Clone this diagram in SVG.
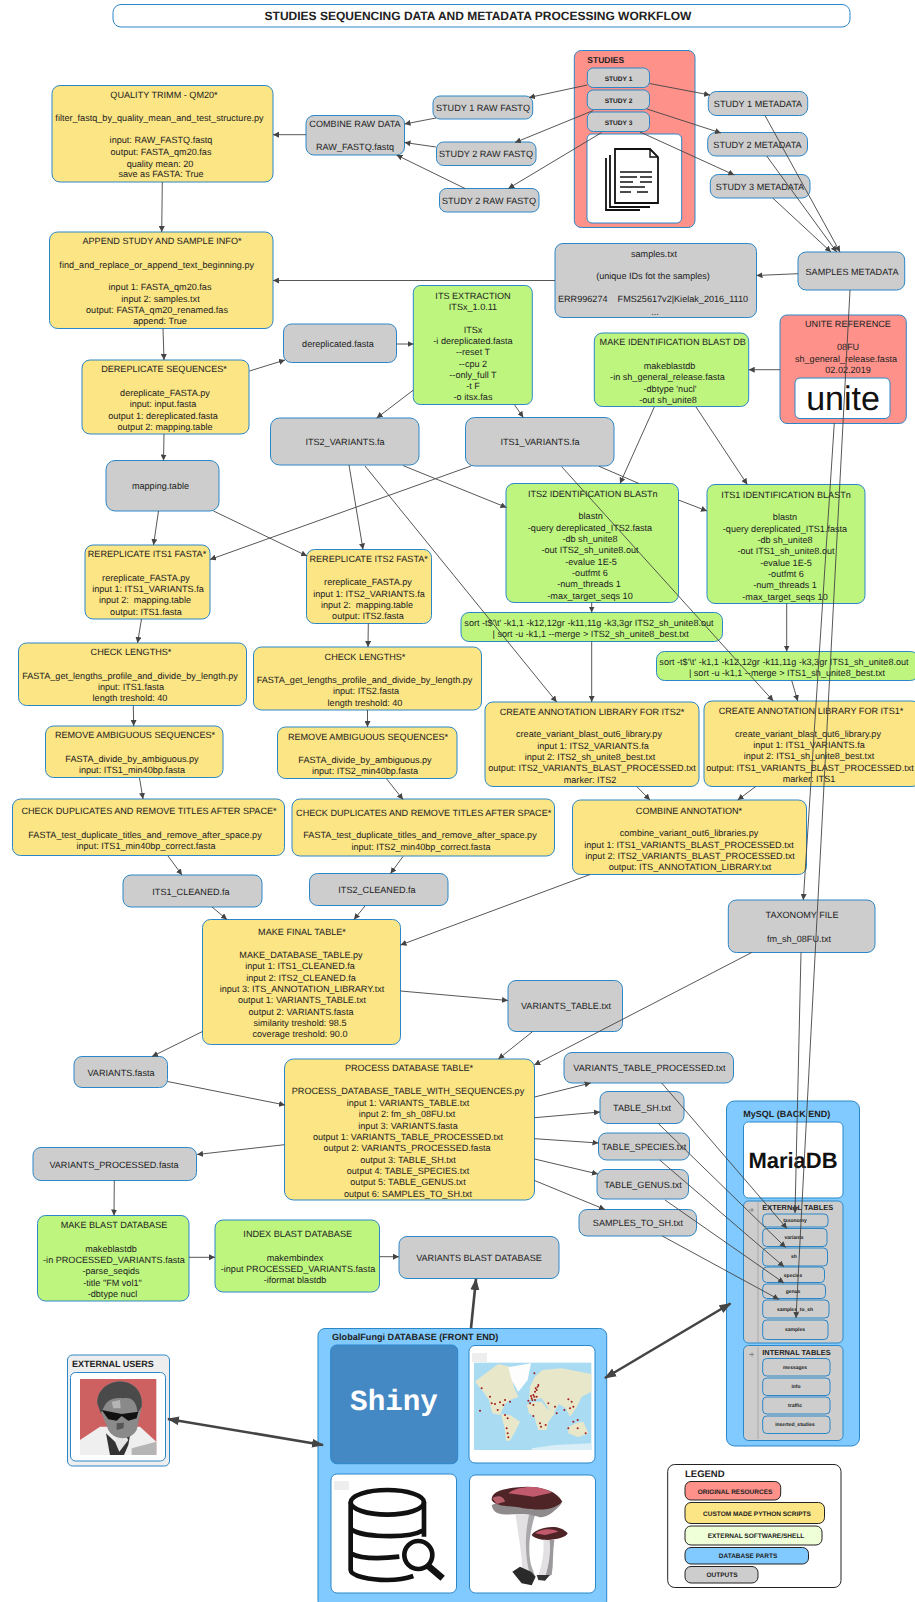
<svg xmlns="http://www.w3.org/2000/svg" width="915" height="1602" viewBox="0 0 915 1602">
<style>
text{font-family:"Liberation Sans",Arial,sans-serif;fill:#222;text-rendering:geometricPrecision}
.t{font-size:9.1px;text-anchor:middle}
.bs{font-weight:bold}
.m{font-size:5px;font-weight:bold;text-anchor:middle}
.st{font-size:6.6px;font-weight:bold;text-anchor:middle}
.l{font-size:6.5px;font-weight:bold;text-anchor:middle}
rect{stroke:#2b87c8;stroke-width:1}
.y{fill:#fce584}.g{fill:#bef57f}.s{fill:#cdcdcd}.r{fill:#fe918a}.b{fill:#80caff}.w{fill:#fff}
.k{stroke:#222;stroke-width:1}
.c{fill:none;stroke:#444;stroke-width:.9;marker-end:url(#a)}
.h{fill:none;stroke:#444;stroke-width:2.6}
</style>
<defs>
<marker id="a" markerUnits="userSpaceOnUse" markerWidth="7" markerHeight="6" refX="6" refY="3" orient="auto"><path d="M0 0L6 3L0 6Z" fill="#444"/></marker>
<marker id="d" markerUnits="userSpaceOnUse" markerWidth="13" markerHeight="10" refX="11" refY="5" orient="auto-start-reverse"><path d="M0 .5L12 5L0 9.5Z" fill="#444"/></marker>
</defs>
<rect width="915" height="1602" style="fill:#fff;stroke:none"/>

<g id="title"><rect x="113" y="4.5" width="737" height="22.5" rx="8" class="w"/><text x="478" y="19.5" class="bs" font-size="12" text-anchor="middle">STUDIES SEQUENCING DATA AND METADATA PROCESSING WORKFLOW</text></g>

<g id="quality-trimm"><rect x="52" y="85.5" width="221" height="96.5" rx="8" class="y"/><text class="t"><tspan x="164" y="98">QUALITY TRIMM - QM20*</tspan><tspan x="159.5" y="120.5">filter_fastq_by_quality_mean_and_test_structure.py</tspan><tspan x="161" y="143">input: RAW_FASTQ.fastq</tspan><tspan x="161" y="154.5">output: FASTA_qm20.fas</tspan><tspan x="160" y="166.5">quality mean: 20</tspan><tspan x="161" y="177">save as FASTA: True</tspan></text></g>

<g id="combine-raw"><rect x="306" y="115.5" width="98.5" height="39.5" rx="8" class="s"/><text class="t"><tspan x="355" y="127">COMBINE RAW DATA</tspan><tspan x="355" y="150">RAW_FASTQ.fastq</tspan></text></g>
<g id="raw1"><rect x="433" y="96" width="99.7" height="23" rx="7" class="s"/><text class="t" x="483" y="111">STUDY 1 RAW FASTQ</text></g>
<g id="raw2"><rect x="436.5" y="142" width="99.5" height="23.5" rx="7" class="s"/><text class="t" x="486" y="157">STUDY 2 RAW FASTQ</text></g>
<g id="raw3"><rect x="439.5" y="188.5" width="99.5" height="23.5" rx="7" class="s"/><text class="t" x="489" y="204">STUDY 2 RAW FASTQ</text></g>

<g id="studies"><rect x="574.3" y="50.5" width="120.7" height="177" rx="7" class="r"/><text x="587.3" y="63" class="bs" font-size="8.5">STUDIES</text>
<rect x="587.3" y="68" width="62.2" height="19.5" rx="6" class="s"/><text class="st" x="618.5" y="80.8">STUDY 1</text>
<rect x="587.3" y="90" width="62.2" height="19.5" rx="6" class="s"/><text class="st" x="618.5" y="102.8">STUDY 2</text>
<rect x="587.3" y="112" width="62.2" height="19.5" rx="6" class="s"/><text class="st" x="618.5" y="124.8">STUDY 3</text>
<rect x="587" y="134" width="94.7" height="89" rx="5" class="w"/>
<g fill="none" stroke="#111" stroke-width="1.8"><path d="M606 158V210H640M610 155V207H650"/><path d="M650 149H615V203H658V157Z" fill="#fff"/><path d="M650 149V157H658" stroke-width="1.4"/><path d="M620 172H652M620 177H637M640 177H652M620 182H633M640 182H652M620 187H645M620 192H631M637 192H648" stroke-width="1.7"/></g></g>

<g id="meta1"><rect x="708.3" y="91.5" width="99.4" height="24" rx="8" class="s"/><text class="t" x="758" y="107">STUDY 1 METADATA</text></g>
<g id="meta2"><rect x="707.7" y="132.5" width="99.8" height="23.5" rx="8" class="s"/><text class="t" x="757.5" y="148">STUDY 2 METADATA</text></g>
<g id="meta3"><rect x="710.3" y="174.5" width="99.7" height="23.5" rx="8" class="s"/><text class="t" x="760" y="190">STUDY 3 METADATA</text></g>
<g id="samples-meta"><rect x="798" y="252" width="106.7" height="38" rx="8" class="s"/><text class="t" x="852" y="275">SAMPLES METADATA</text></g>
<g id="samples-txt"><rect x="555" y="243.5" width="201.5" height="74" rx="8" class="s"/><text class="t"><tspan x="654" y="256.5">samples.txt</tspan><tspan x="653" y="278.5">(unique IDs fot the samples)</tspan><tspan x="653" y="301.5">ERR996274&#160;&#160;&#160;&#160;FMS25617v2|Kielak_2016_1110</tspan><tspan x="655" y="314.5">...</tspan></text></g>

<g id="unite"><rect x="780" y="315" width="126.3" height="108.5" rx="7" class="r"/><text class="t"><tspan x="848" y="327">UNITE REFERENCE</tspan><tspan x="848" y="350">08FU</tspan><tspan x="846" y="361.5">sh_general_release.fasta</tspan><tspan x="848" y="373">02.02.2019</tspan></text><rect x="795" y="378" width="95" height="40.5" rx="5" class="w"/><text x="843" y="410" font-size="34" text-anchor="middle" style="fill:#111">unite</text></g>

<g id="make-id-db"><rect x="594.3" y="333" width="154.4" height="73.5" rx="8" class="g"/><text class="t"><tspan x="672.7" y="345">MAKE IDENTIFICATION BLAST DB</tspan><tspan x="669.5" y="368.5">makeblastdb</tspan><tspan x="667.5" y="379.5">-in sh_general_release.fasta</tspan><tspan x="670" y="391.5">-dbtype 'nucl'</tspan><tspan x="668" y="403">-out sh_unite8</tspan></text></g>

<g id="its-extraction"><rect x="413.3" y="285.5" width="119" height="119" rx="7" class="g"/><text class="t"><tspan x="473" y="298.5">ITS EXTRACTION</tspan><tspan x="473" y="310">ITSx_1.0.11</tspan><tspan x="473" y="332.5">ITSx</tspan><tspan x="473" y="343.5">-i dereplicated.fasta</tspan><tspan x="473" y="354.5">--reset T</tspan><tspan x="473" y="366.5">--cpu 2</tspan><tspan x="473" y="377.5">--only_full T</tspan><tspan x="473" y="388.5">-t F</tspan><tspan x="473" y="400">-o itsx.fas</tspan></text></g>

<g id="append"><rect x="49.5" y="232" width="223.5" height="96.5" rx="8" class="y"/><text class="t"><tspan x="162" y="244">APPEND STUDY AND SAMPLE INFO*</tspan><tspan x="156.7" y="267.5">find_and_replace_or_append_text_beginning.py</tspan><tspan x="160" y="289.5">input 1: FASTA_qm20.fas</tspan><tspan x="160.5" y="301.5">input 2: samples.txt</tspan><tspan x="157" y="312.5">output: FASTA_qm20_renamed.fas</tspan><tspan x="160" y="323.5">append: True</tspan></text></g>

<g id="dereplicated"><rect x="283.5" y="324" width="113" height="38.5" rx="8" class="s"/><text class="t" x="338" y="347">dereplicated.fasta</text></g>
<g id="dereplicate"><rect x="82" y="360" width="167" height="74" rx="8" class="y"/><text class="t"><tspan x="164" y="372">DEREPLICATE SEQUENCES*</tspan><tspan x="165" y="395.5">dereplicate_FASTA.py</tspan><tspan x="163" y="406.5">input: input.fasta</tspan><tspan x="163" y="418.5">output 1: dereplicated.fasta</tspan><tspan x="165" y="429.5">output 2: mapping.table</tspan></text></g>
<g id="mapping"><rect x="106" y="460.5" width="113" height="50.5" rx="9" class="s"/><text class="t" x="160.5" y="489">mapping.table</text></g>
<g id="its2-var"><rect x="270.5" y="418" width="148.5" height="47" rx="9" class="s"/><text class="t" x="345" y="445">ITS2_VARIANTS.fa</text></g>
<g id="its1-var"><rect x="465.5" y="417.5" width="148.5" height="48.5" rx="9" class="s"/><text class="t" x="540" y="445">ITS1_VARIANTS.fa</text></g>

<g id="rerep1"><rect x="85" y="545" width="125" height="74" rx="8" class="y"/><text class="t"><tspan x="147" y="557">REREPLICATE ITS1 FASTA*</tspan><tspan x="146" y="580.5">rereplicate_FASTA.py</tspan><tspan x="148" y="591.5">input 1: ITS1_VARIANTS.fa</tspan><tspan x="145" y="602.5">input 2:&#160;&#160;mapping.table</tspan><tspan x="146" y="614.5">output: ITS1.fasta</tspan></text></g>
<g id="rerep2"><rect x="306.5" y="549.5" width="125" height="74" rx="8" class="y"/><text class="t"><tspan x="368.7" y="562">REREPLICATE ITS2 FASTA*</tspan><tspan x="368" y="584.5">rereplicate_FASTA.py</tspan><tspan x="369" y="596.5">input 1: ITS2_VARIANTS.fa</tspan><tspan x="367" y="607.5">input 2:&#160;&#160;mapping.table</tspan><tspan x="368" y="618.5">output: ITS2.fasta</tspan></text></g>
<g id="check1"><rect x="18.5" y="643" width="228" height="62.5" rx="8" class="y"/><text class="t"><tspan x="131" y="655">CHECK LENGTHS*</tspan><tspan x="130" y="678.5">FASTA_get_lengths_profile_and_divide_by_length.py</tspan><tspan x="131" y="689.5">input: ITS1.fasta</tspan><tspan x="130" y="700.5">length treshold: 40</tspan></text></g>
<g id="check2"><rect x="253.5" y="647" width="228" height="63" rx="8" class="y"/><text class="t"><tspan x="365" y="659.5">CHECK LENGTHS*</tspan><tspan x="364.5" y="682.5">FASTA_get_lengths_profile_and_divide_by_length.py</tspan><tspan x="366" y="693.5">input: ITS2.fasta</tspan><tspan x="365" y="705.5">length treshold: 40</tspan></text></g>
<g id="remove1"><rect x="45.5" y="726" width="177.5" height="51.5" rx="8" class="y"/><text class="t"><tspan x="135" y="738">REMOVE AMBIGUOUS SEQUENCES*</tspan><tspan x="132" y="761.5">FASTA_divide_by_ambiguous.py</tspan><tspan x="132" y="772.5">input: ITS1_min40bp.fasta</tspan></text></g>
<g id="remove2"><rect x="277.5" y="727" width="179.5" height="51.5" rx="8" class="y"/><text class="t"><tspan x="368" y="739.5">REMOVE AMBIGUOUS SEQUENCES*</tspan><tspan x="365" y="762.5">FASTA_divide_by_ambiguous.py</tspan><tspan x="365" y="773.5">input: ITS2_min40bp.fasta</tspan></text></g>
<g id="dup1"><rect x="12.5" y="799" width="272" height="56.5" rx="8" class="y"/><text class="t"><tspan x="149" y="814">CHECK DUPLICATES AND REMOVE TITLES AFTER SPACE*</tspan><tspan x="145" y="837.5">FASTA_test_duplicate_titles_and_remove_after_space.py</tspan><tspan x="146" y="848.5">input: ITS1_min40bp_correct.fasta</tspan></text></g>
<g id="dup2"><rect x="292" y="799" width="262.5" height="57" rx="8" class="y"/><text class="t"><tspan x="423.7" y="815.5">CHECK DUPLICATES AND REMOVE TITLES AFTER SPACE*</tspan><tspan x="420" y="837.5">FASTA_test_duplicate_titles_and_remove_after_space.py</tspan><tspan x="421" y="849.5">input: ITS2_min40bp_correct.fasta</tspan></text></g>
<g id="clean1"><rect x="123" y="875" width="139" height="32" rx="8" class="s"/><text class="t" x="191" y="895">ITS1_CLEANED.fa</text></g>
<g id="clean2"><rect x="309.5" y="873.5" width="138.5" height="32" rx="8" class="s"/><text class="t" x="377" y="893">ITS2_CLEANED.fa</text></g>

<g id="final"><rect x="202.5" y="919.5" width="198" height="125" rx="8" class="y"/><text class="t"><tspan x="302" y="934.5">MAKE FINAL TABLE*</tspan><tspan x="301" y="957.5">MAKE_DATABASE_TABLE.py</tspan><tspan x="300" y="968.5">input 1: ITS1_CLEANED.fa</tspan><tspan x="301" y="980.5">input 2: ITS2_CLEANED.fa</tspan><tspan x="302" y="991.5">input 3: ITS_ANNOTATION_LIBRARY.txt</tspan><tspan x="302" y="1002.5">output 1: VARIANTS_TABLE.txt</tspan><tspan x="301" y="1014.5">output 2: VARIANTS.fasta</tspan><tspan x="300" y="1025.5">similarity treshold: 98.5</tspan><tspan x="300" y="1036.5">coverage treshold: 90.0</tspan></text></g>
<g id="variants-fasta"><rect x="74" y="1056.5" width="93.5" height="31" rx="8" class="s"/><text class="t" x="121" y="1076">VARIANTS.fasta</text></g>
<g id="process"><rect x="284.5" y="1059" width="250" height="141" rx="9" class="y"/><text class="t"><tspan x="409" y="1071">PROCESS DATABASE TABLE*</tspan><tspan x="408" y="1094">PROCESS_DATABASE_TABLE_WITH_SEQUENCES.py</tspan><tspan x="408" y="1105.5">input 1: VARIANTS_TABLE.txt</tspan><tspan x="407" y="1116.5">input 2: fm_sh_08FU.txt</tspan><tspan x="408" y="1128.5">input 3: VARIANTS.fasta</tspan><tspan x="408" y="1139.5">output 1: VARIANTS_TABLE_PROCESSED.txt</tspan><tspan x="407" y="1150.5">output 2: VARIANTS_PROCESSED.fasta</tspan><tspan x="408" y="1162.5">output 3: TABLE_SH.txt</tspan><tspan x="408" y="1173.5">output 4: TABLE_SPECIES.txt</tspan><tspan x="408" y="1184.5">output 5: TABLE_GENUS.txt</tspan><tspan x="408" y="1196.5">output 6: SAMPLES_TO_SH.txt</tspan></text></g>
<g id="variants-processed"><rect x="33" y="1147.5" width="163.5" height="33" rx="8" class="s"/><text class="t" x="114" y="1168">VARIANTS_PROCESSED.fasta</text></g>
<g id="make-blast"><rect x="37.5" y="1215.5" width="151.5" height="85.5" rx="8" class="g"/><text class="t"><tspan x="114" y="1228">MAKE BLAST DATABASE</tspan><tspan x="111" y="1251.5">makeblastdb</tspan><tspan x="114" y="1262.5">-in PROCESSED_VARIANTS.fasta</tspan><tspan x="111" y="1273.5">-parse_seqids</tspan><tspan x="112.5" y="1285.5">-title "FM vol1"</tspan><tspan x="112.5" y="1296.5">-dbtype nucl</tspan></text></g>
<g id="index-blast"><rect x="215" y="1220" width="164.5" height="72" rx="8" class="g"/><text class="t"><tspan x="297.7" y="1237">INDEX BLAST DATABASE</tspan><tspan x="295" y="1260.5">makembindex</tspan><tspan x="298" y="1271.5">-input PROCESSED_VARIANTS.fasta</tspan><tspan x="295" y="1282.5">-iformat blastdb</tspan></text></g>
<g id="variants-blast-db"><rect x="399" y="1236.5" width="160" height="42" rx="8" class="s"/><text class="t" x="479" y="1261">VARIANTS BLAST DATABASE</text></g>

<g id="its2-id"><rect x="506" y="483.5" width="172.5" height="119" rx="8" class="g"/><text class="t"><tspan x="592.8" y="496.5">ITS2 IDENTIFICATION BLASTn</tspan><tspan x="590.7" y="518.5">blastn</tspan><tspan x="590" y="530.5">-query dereplicated_ITS2.fasta</tspan><tspan x="590" y="541.5">-db sh_unite8</tspan><tspan x="590" y="552.5">-out ITS2_sh_unite8.out</tspan><tspan x="591" y="564.5">-evalue 1E-5</tspan><tspan x="590" y="575.5">-outfmt 6</tspan><tspan x="589" y="586.5">-num_threads 1</tspan><tspan x="590" y="598.5">-max_target_seqs 10</tspan></text></g>
<g id="its1-id"><rect x="707" y="484.5" width="158" height="119" rx="8" class="g"/><text class="t"><tspan x="786" y="497.5">ITS1 IDENTIFICATION BLASTn</tspan><tspan x="785" y="519.5">blastn</tspan><tspan x="785" y="531.5">-query dereplicated_ITS1.fasta</tspan><tspan x="785" y="542.5">-db sh_unite8</tspan><tspan x="786" y="553.5">-out ITS1_sh_unite8.out</tspan><tspan x="786" y="565.5">-evalue 1E-5</tspan><tspan x="786" y="576.5">-outfmt 6</tspan><tspan x="785" y="587.5">-num_threads 1</tspan><tspan x="785" y="599.5">-max_target_seqs 10</tspan></text></g>
<g id="sort2"><rect x="461" y="612.5" width="261.5" height="29" rx="8" class="g"/><text class="t"><tspan x="589" y="625.5">sort -t$'\t' -k1,1 -k12,12gr -k11,11g -k3,3gr ITS2_sh_unite8.out</tspan><tspan x="590.7" y="636.5">| sort -u -k1,1 --merge &gt; ITS2_sh_unite8_best.txt</tspan></text></g>
<g id="sort1"><rect x="656.5" y="651.5" width="262" height="29" rx="8" class="g"/><text class="t"><tspan x="784" y="664.5">sort -t$'\t' -k1,1 -k12,12gr -k11,11g -k3,3gr ITS1_sh_unite8.out</tspan><tspan x="787" y="675.5">| sort -u -k1,1 --merge &gt; ITS1_sh_unite8_best.txt</tspan></text></g>
<g id="create2"><rect x="485" y="702" width="214" height="84.5" rx="8" class="y"/><text class="t"><tspan x="592" y="714.5">CREATE ANNOTATION LIBRARY FOR ITS2*</tspan><tspan x="589" y="736.5">create_variant_blast_out6_library.py</tspan><tspan x="593" y="748.5">input 1: ITS2_VARIANTS.fa</tspan><tspan x="590" y="759.5">input 2: ITS2_sh_unite8_best.txt</tspan><tspan x="592" y="770.5">output: ITS2_VARIANTS_BLAST_PROCESSED.txt</tspan><tspan x="590" y="782.5">marker: ITS2</tspan></text></g>
<g id="create1"><rect x="704" y="701" width="216" height="85.5" rx="8" class="y"/><text class="t"><tspan x="811" y="713.5">CREATE ANNOTATION LIBRARY FOR ITS1*</tspan><tspan x="808" y="736.5">create_variant_blast_out6_library.py</tspan><tspan x="809" y="747.5">input 1: ITS1_VARIANTS.fa</tspan><tspan x="809" y="758.5">input 2: ITS1_sh_unite8_best.txt</tspan><tspan x="810" y="770.5">output: ITS1_VARIANTS_BLAST_PROCESSED.txt</tspan><tspan x="809" y="781.5">marker: ITS1</tspan></text></g>
<g id="combine-annot"><rect x="572.5" y="800" width="234" height="74.5" rx="8" class="y"/><text class="t"><tspan x="689" y="813.5">COMBINE ANNOTATION*</tspan><tspan x="689" y="835.5">combine_variant_out6_libraries.py</tspan><tspan x="689" y="847.5">input 1: ITS1_VARIANTS_BLAST_PROCESSED.txt</tspan><tspan x="690" y="858.5">input 2: ITS2_VARIANTS_BLAST_PROCESSED.txt</tspan><tspan x="690" y="869.5">output: ITS_ANNOTATION_LIBRARY.txt</tspan></text></g>
<g id="taxonomy-file"><rect x="728.3" y="900" width="146.7" height="52.5" rx="8" class="s"/><text class="t"><tspan x="802" y="918">TAXONOMY FILE</tspan><tspan x="799" y="941.5">fm_sh_08FU.txt</tspan></text></g>
<g id="variants-table"><rect x="508" y="980.5" width="114.5" height="51" rx="8" class="s"/><text class="t" x="566" y="1009">VARIANTS_TABLE.txt</text></g>
<g id="vtp"><rect x="564" y="1052.5" width="169.5" height="30.5" rx="8" class="s"/><text class="t" x="649.5" y="1071">VARIANTS_TABLE_PROCESSED.txt</text></g>
<g id="table-sh"><rect x="600" y="1091.5" width="84" height="32" rx="8" class="s"/><text class="t" x="642" y="1111">TABLE_SH.txt</text></g>
<g id="table-species"><rect x="598.5" y="1133" width="91" height="27" rx="8" class="s"/><text class="t" x="644" y="1150">TABLE_SPECIES.txt</text></g>
<g id="table-genus"><rect x="597" y="1169.5" width="91.5" height="29.5" rx="8" class="s"/><text class="t" x="643" y="1188">TABLE_GENUS.txt</text></g>
<g id="samples-to-sh"><rect x="579" y="1209.5" width="117.5" height="26.5" rx="8" class="s"/><text class="t" x="638" y="1226">SAMPLES_TO_SH.txt</text></g>

<g id="mysql"><rect x="726.5" y="1101" width="133" height="345" rx="8" class="b"/><text x="743.3" y="1117" class="bs" font-size="9">MySQL (BACK END)</text>
<rect x="743.5" y="1122" width="99.5" height="76" rx="5" class="w"/><text x="793" y="1167.7" class="bs" font-size="22" text-anchor="middle" style="fill:#111">MariaDB</text>
<rect x="743.5" y="1201" width="99.5" height="142" rx="5" class="s"/><path d="M758 1202V1342" stroke="#bbb" stroke-width="2"/><text x="762.3" y="1210" class="bs" font-size="7.4">EXTERNAL TABLES</text><path d="M749 1210H754M752 1208V1212" stroke="#888"/>
<g><rect x="762.7" y="1214" width="65.3" height="13" rx="4" class="s"/><text class="m" x="795" y="1222">taxonomy</text>
<rect x="762.7" y="1228.5" width="64.3" height="18" rx="4" class="s"/><text class="m" x="794" y="1239">variants</text>
<rect x="762.7" y="1248" width="64.8" height="18" rx="4" class="s"/><text class="m" x="794" y="1258">sh</text>
<rect x="762.7" y="1267" width="61.8" height="15.5" rx="4" class="s"/><text class="m" x="793" y="1277">species</text>
<rect x="762.7" y="1284" width="62.8" height="14.5" rx="4" class="s"/><text class="m" x="793" y="1293">genus</text>
<rect x="762.7" y="1300" width="66.3" height="18" rx="4" class="s"/><text class="m" x="795" y="1311">samples_to_sh</text>
<rect x="762.7" y="1320" width="65.3" height="19.5" rx="4" class="s"/><text class="m" x="795" y="1331">samples</text></g>
<rect x="743.5" y="1345.5" width="99.5" height="95" rx="5" class="s"/><path d="M758 1347V1439" stroke="#bbb" stroke-width="2"/><text x="762.3" y="1354.5" class="bs" font-size="7.4">INTERNAL TABLES</text><path d="M749 1354.5H754M752 1352.5V1356.5" stroke="#888"/>
<g><rect x="762.7" y="1358.5" width="67.3" height="17.5" rx="4" class="s"/><text class="m" x="795" y="1369">messages</text>
<rect x="762.7" y="1378" width="67.3" height="17.5" rx="4" class="s"/><text class="m" x="796" y="1388">info</text>
<rect x="762.7" y="1397" width="67.3" height="17" rx="4" class="s"/><text class="m" x="795" y="1407">traffic</text>
<rect x="762.7" y="1416" width="67.3" height="17.5" rx="4" class="s"/><text class="m" x="795" y="1426">inserted_studies</text></g></g>

<g id="globalfungi"><rect x="318" y="1328.5" width="288.7" height="280" rx="7" class="b"/><text x="332" y="1340" class="bs" font-size="9.1">GlobalFungi DATABASE (FRONT END)</text>
<rect x="330.7" y="1345" width="127" height="118.7" rx="6" style="fill:#4488c4"/><text x="394" y="1410" font-size="29.3" font-weight="bold" text-anchor="middle" style="font-family:'Liberation Mono',monospace;fill:#fff">Shiny</text>
<rect x="469" y="1345.5" width="126" height="117.5" rx="6" class="w"/><rect x="472" y="1353" width="15" height="9" style="fill:#eee;stroke:none"/>
<g transform="translate(455 1200) scale(.33333)"><rect x="57" y="488" width="352" height="262" style="fill:#a9dbf3;stroke:none"/>
<g fill="#e9e7c9"><path d="M60 545L85 525L130 492L165 500L172 540L178 565L190 590L165 600L150 612L135 645L112 640L102 600L85 575L72 560Z"/><path d="M138 642L165 645L195 665L180 695L165 722L153 722L150 690Z"/><path d="M215 615L235 605L260 605L275 625L300 640L280 665L275 690L250 690L238 650L222 640Z"/><path d="M225 560L240 530L262 510L320 505L409 522L409 575L380 590L365 622L345 650L332 625L312 612L295 640L282 628L260 595L222 600Z"/><path d="M340 682L365 668L385 665L400 700L370 712L340 700Z"/><path d="M230 745L300 735L409 730V750H230Z" fill="#d9eef7"/></g>
<path d="M160 502L228 490L218 540L190 575L170 540Z" fill="#fdfdfd"/>
<path d="M80 565h.1M105 590h.1M110 610h.1M120 612h.1M135 607h.1M150 600h.1M165 605h.1M128 630h.1M145 615h.1M75 632h.1M150 645h.1M158 655h.1M155 685h.1M158 700h.1M160 712h.1M238 520h.1M248 560h.1M240 575h.1M245 570h.1M235 585h.1M230 595h.1M240 600h.1M225 610h.1M235 615h.1M220 602h.1M238 590h.1M245 590h.1M280 610h.1M300 620h.1M340 598h.1M350 605h.1M355 620h.1M345 625h.1M328 630h.1M305 640h.1M255 670h.1M272 675h.1M340 685h.1M368 660h.1M368 685h.1M355 665h.1M392 700h.1M258 680h.1M235 648h.1M242 565h.1M250 555h.1M232 600h.1M228 588h.1" stroke="#a01f1c" stroke-width="6" stroke-linecap="round" fill="none"/></g>
<rect x="331" y="1474" width="125.5" height="119" rx="6" class="w"/><rect x="334" y="1481" width="15" height="9" style="fill:#eee;stroke:none"/>
<g transform="translate(0 1200) scale(.33333)" fill="none" stroke="#111" stroke-width="14"><ellipse cx="1162" cy="907" rx="110" ry="37"/><path d="M1052 907V1110C1052 1128 1110 1140 1162 1140C1190 1140 1220 1135 1240 1128M1272 907V1010M1052 985C1070 1010 1220 1020 1272 990M1052 1060C1080 1075 1130 1078 1198 1070"/><circle cx="1255" cy="1065" r="42"/><path d="M1285 1098L1328 1135" stroke-width="20"/></g>
<rect x="469.5" y="1475" width="126" height="118" rx="6" class="w"/>
<g transform="translate(455 1200) scale(.33333)"><path d="M182 945H238C222 990 215 1040 222 1080C226 1100 236 1115 240 1135L200 1130C205 1090 195 1040 182 945Z" fill="#e2e0e3"/><path d="M222 945H240C226 990 218 1040 226 1085C230 1105 240 1120 240 1135L225 1125C210 1070 208 1010 222 945Z" fill="#a9a7aa"/><path d="M265 1020H298C292 1055 296 1090 290 1125L248 1132C262 1090 268 1060 265 1020Z" fill="#e2e0e3"/><path d="M284 1020H298C292 1055 296 1090 290 1125L272 1128C282 1090 288 1060 284 1020Z" fill="#9b999c"/><path d="M110 915C118 965 190 930 250 950C270 958 300 935 320 910L200 880Z" fill="#8f8a8c"/><path d="M110 900C125 925 180 915 205 925C250 930 290 935 322 905C305 870 245 855 190 862C145 865 108 875 110 900Z" fill="#4f2427"/><path d="M160 880C190 855 260 855 290 878L235 890L200 885Z" fill="#c15a6d"/><path d="M112 895C125 885 145 885 150 905L125 912Z" fill="#b7616c"/><path d="M172 1115L195 1100L228 1115L242 1130L230 1156L200 1150Z" fill="#2a2a2a"/><path d="M245 1125L285 1125L270 1142L250 1140Z" fill="#333"/><path d="M230 1005C240 985 310 965 338 1000C330 1020 250 1030 230 1005Z" fill="#4f2427"/><path d="M240 1000C260 985 290 985 310 995L270 1005Z" fill="#c15a6d"/></g></g>

<g id="external-users"><rect x="67.5" y="1355" width="102" height="111" rx="5" style="fill:#eee"/><text x="72" y="1367.3" class="bs" font-size="9">EXTERNAL USERS</text><rect x="70.5" y="1372.5" width="95" height="88.5" rx="5" class="w"/>
<g transform="translate(0 1200) scale(.33333)"><rect x="240" y="537" width="229" height="228" style="fill:#cd6060;stroke:none"/><path d="M240 720L300 680H420L469 725V765H240Z" fill="#efefef"/><path d="M318 700L345 725L392 695L385 735L372 765H330Z" fill="#333"/><path d="M345 725L358 755L385 720L375 705H355Z" fill="#e5e5e5"/><path d="M395 745L469 725V765H395Z" fill="#b5b5b5"/><path d="M292 610C290 560 340 540 370 545C410 550 430 585 425 620L410 690C390 725 340 720 325 690L305 640Z" fill="#8a8a8a"/><path d="M292 610C290 560 340 540 370 545C410 550 430 585 425 620L413 640C410 610 400 590 370 595C340 590 320 600 310 625L302 640Z" fill="#4a4a4a"/><path d="M335 605L360 600L362 625L340 625Z" fill="#b5b5b5"/><path d="M305 630L365 642L415 635L410 655L385 662L365 648L350 662L325 658Z" fill="#111"/><path d="M350 670L372 668L370 685L350 690Z" fill="#555"/></g></g>

<g id="legend"><rect x="667.7" y="1464.5" width="173.3" height="123" rx="7" class="w k"/><text x="685" y="1476.5" class="bs" font-size="9.5">LEGEND</text>
<rect x="685" y="1481.5" width="95.7" height="18.5" rx="6" class="r k"/><text class="l" x="735" y="1494">ORIGINAL RESOURCES</text>
<rect x="685" y="1502.5" width="139.5" height="21" rx="6" class="y k"/><text class="l" x="757" y="1516">CUSTOM MADE PYTHON SCRIPTS</text>
<rect x="685" y="1526" width="137" height="19" rx="6" class="k" style="fill:#efffd8"/><text class="l" x="756" y="1538">EXTERNAL SOFTWARE/SHELL</text>
<rect x="685" y="1547.5" width="123.5" height="16.5" rx="6" class="b k"/><text class="l" x="748" y="1558">DATABASE PARTS</text>
<rect x="685" y="1566.5" width="73" height="16.5" rx="6" class="s k"/><text class="l" x="722" y="1577">OUTPUTS</text></g>

<g id="connectors">
<path class="c" d="M587.3 85L529 97.5"/><path class="c" d="M593.3 110.5L515 142.5"/><path class="c" d="M601.7 132.5L508.3 188.5"/>
<path class="c" d="M649.5 83.5L710 95"/><path class="c" d="M647 109L721 133"/><path class="c" d="M640 132L734.3 175"/>
<path class="c" d="M765 115.5L840 252"/><path class="c" d="M766.7 156L836.7 252"/><path class="c" d="M772.7 198L831 252"/>
<path class="c" d="M798 273.7L756.5 275.5"/><path class="c" d="M555 280.5H273"/>
<path class="c" d="M436 118L404.5 124"/><path class="c" d="M436 147L404.5 142.5"/><path class="c" d="M465 188.5L396.5 155"/>
<path class="c" d="M306 134.7H273"/><path class="c" d="M162.3 182L161.7 232"/><path class="c" d="M163 328.5L164 360"/>
<path class="c" d="M249.5 371L285 360"/><path class="c" d="M396.5 344H413.5"/>
<path class="c" d="M413.5 390L376.7 418"/><path class="c" d="M514.3 404.5L523.3 417.5"/>
<path class="c" d="M780 369.7H748.7"/><path class="c" d="M654.3 407L620 483.5"/><path class="c" d="M696 407L747.3 484.5"/>
<path class="c" d="M164 434L163.5 460.5"/><path class="c" d="M158.5 511L153.5 545"/><path class="c" d="M213.5 511L307 556"/>
<path class="c" d="M349 465L363 549.5"/><path class="c" d="M471 466L210 559.5"/><path class="c" d="M403.3 465.7L506.5 507.5"/>
<path class="c" d="M365 466L556.7 702"/>
<path class="c" d="M599 466.3L639 483.5M678.5 500L707 511"/>
<path class="c" d="M561.7 466.7L773.3 701"/>
<path class="c" d="M591.7 602.5V612.5"/><path class="c" d="M786.7 603.5V651.5"/><path class="c" d="M591.7 641.5V702"/><path class="c" d="M791.7 680.5L797.7 701"/>
<path class="c" d="M636.7 786.5L650 800"/><path class="c" d="M755.7 786.5L737.7 800"/>
<path class="c" d="M141.5 619L137.5 643"/><path class="c" d="M368.3 623.5L368 647"/><path class="c" d="M133.3 705.5L133.7 726"/><path class="c" d="M367.5 710V727"/>
<path class="c" d="M139.5 778L143 799"/><path class="c" d="M386.7 779L403 799.5"/><path class="c" d="M168 856L182 875"/><path class="c" d="M403 856.5L390.5 873.5"/>
<path class="c" d="M212 907L227 919.5"/><path class="c" d="M365 906L354 919.5"/><path class="c" d="M590 874.5L400.5 945"/>
<path class="c" d="M400.5 991L508 1000.5"/><path class="c" d="M202.5 1031.5L152 1056.5"/><path class="c" d="M167.5 1081.5L285 1105"/>
<path class="c" d="M532.7 1031.5L498.3 1059"/><path class="c" d="M751.7 952.5L534.3 1065"/><path class="c" d="M284.5 1144.7L197 1154.5"/>
<path class="c" d="M114.3 1180.5L114 1215.5"/><path class="c" d="M189 1257.3H215"/><path class="c" d="M379.5 1256.7H399"/>
<path class="c" d="M534.5 1097L590.7 1083"/><path class="c" d="M534.5 1117.7L600 1112"/><path class="c" d="M534.5 1138.7L598.5 1143"/><path class="c" d="M534.5 1159L598 1174"/><path class="c" d="M534.5 1180.5L605 1209.5"/>
<path class="c" d="M661.7 1083L787 1228.5"/><path class="c" d="M658.3 1123.5L785.7 1247.5"/><path class="c" d="M659.7 1160L784 1266.7"/><path class="c" d="M665 1200L784 1283"/><path class="c" d="M662.3 1236L779 1299.5"/>
<path class="c" d="M850 290L796 1318"/><path class="c" d="M834.3 423L803.3 900"/><path class="c" d="M801 952.5L795 1213"/>
<path class="h" d="M471 1328L476 1279" marker-end="url(#d)"/>
<path class="h" d="M168 1419L323 1445" marker-start="url(#d)" marker-end="url(#d)"/>
<path class="h" d="M605 1378L730.5 1303.5" marker-start="url(#d)" marker-end="url(#d)"/>
</g>
</svg>
